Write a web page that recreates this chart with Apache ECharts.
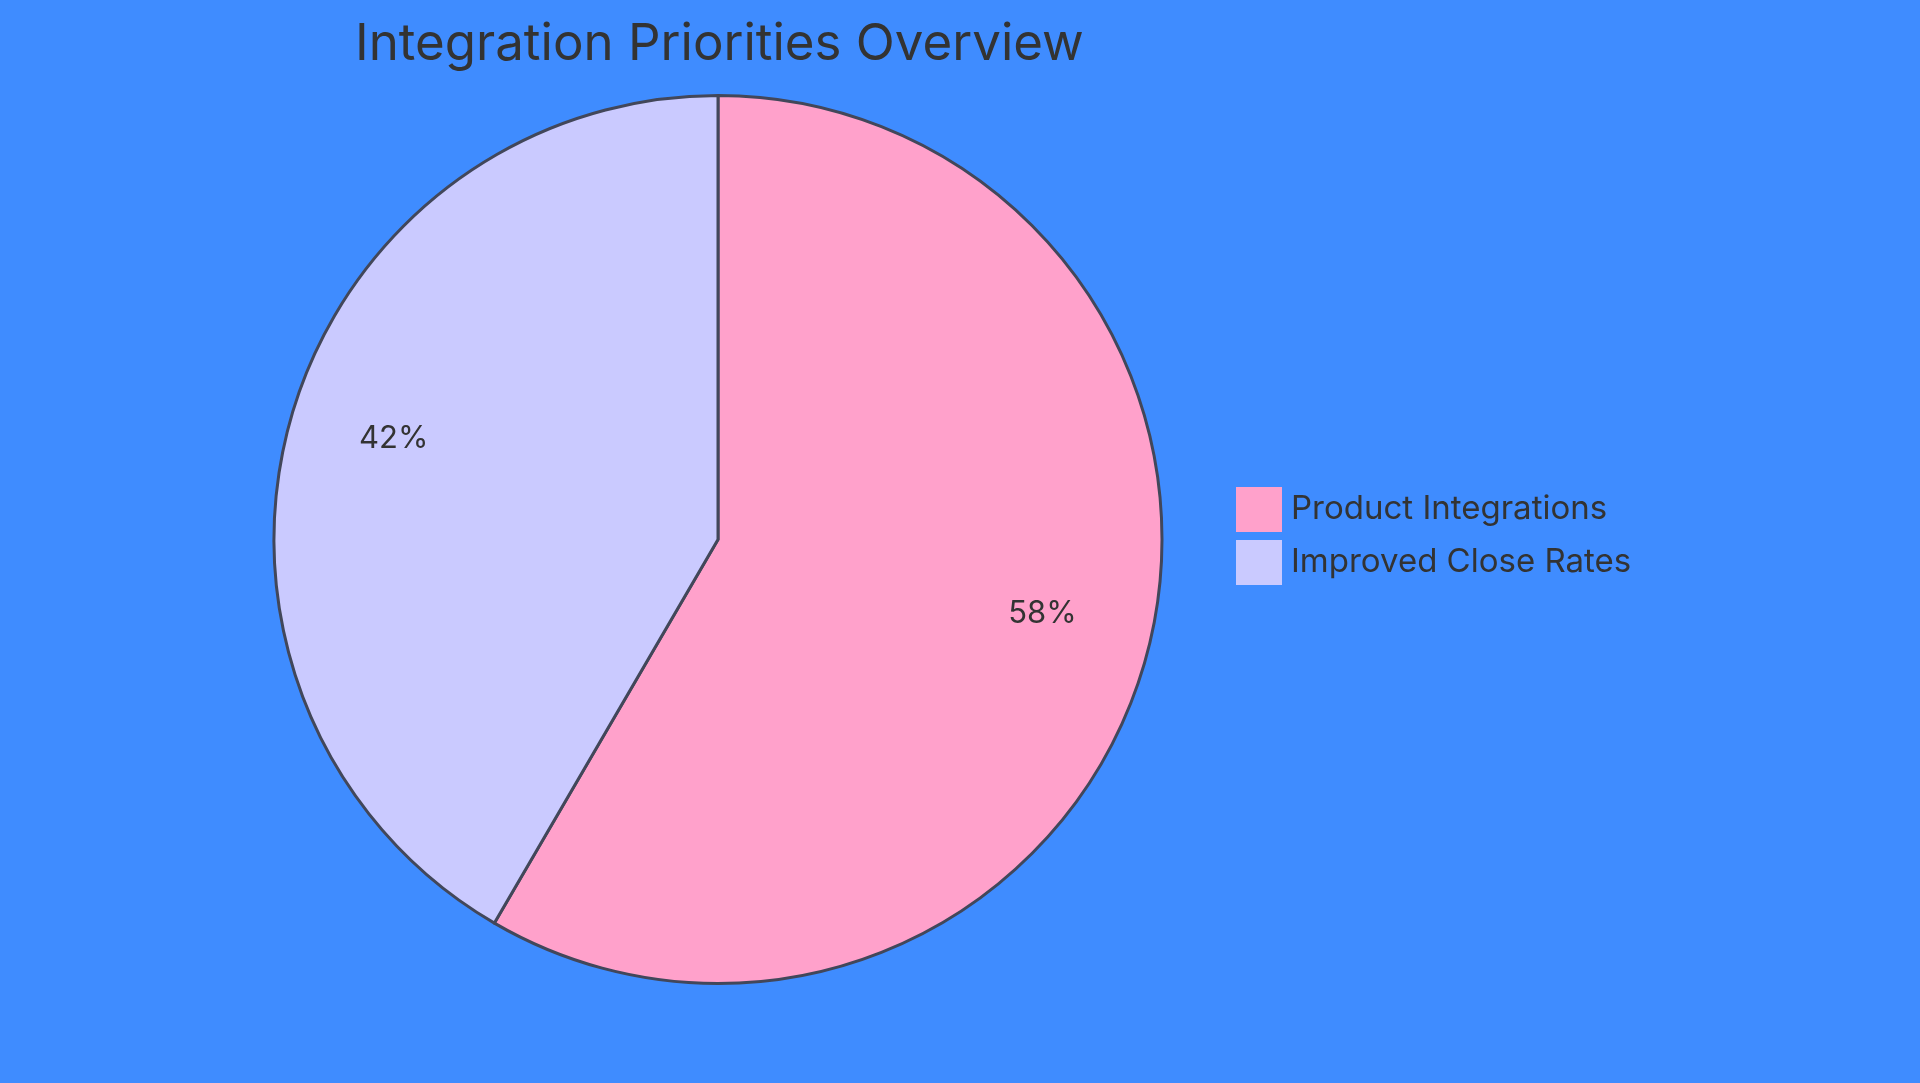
<!doctype html>
<html>
    <head>
        <meta charset="utf-8">
        <title>Integration Priorities Overview</title>
        <style>
            html, body { margin: 0; padding: 0; background: #3f8cff; }
            #main { width: 1920px; height: 1083px; }
        </style>
    </head>
    <body>
        <div id="main"></div>
        <script src="https://cdn.jsdelivr.net/npm/echarts@6/dist/echarts.min.js"></script>
        <script>
            var chart = echarts.init(document.getElementById('main'));

            var categories = ['Product Integrations', 'Improved Close Rates'];
            var values = [58.4, 41.6];
            var colors = ['#ffa1cb', '#cacaff'];

            var fontFamily = 'Inter, "Noto Sans", sans-serif';

            var pieData = categories.map(function (name, i) {
                return { name: name, value: values[i], itemStyle: { color: colors[i] } };
            });

            // labels sit at 3/4 of the radius, so a transparent ring carries them
            var labelData = categories.map(function (name, i) {
                return { name: name, value: values[i] };
            });

            chart.setOption({
                backgroundColor: '#3f8cff',
                animation: false,
                title: {
                    text: 'Integration Priorities Overview',
                    left: 350,
                    top: 14,
                    textStyle: {
                        fontFamily: fontFamily,
                        fontSize: 51,
                        fontWeight: 'normal',
                        color: '#333333'
                    }
                },
                legend: {
                    orient: 'vertical',
                    left: 1236,
                    top: 486,
                    padding: 0,
                    itemWidth: 46,
                    itemHeight: 45,
                    itemGap: 6,
                    icon: 'rect',
                    data: categories,
                    itemStyle: { borderWidth: 0 },
                    textStyle: {
                        fontFamily: fontFamily,
                        fontSize: 33,
                        lineHeight: 45,
                        color: '#333333',
                        padding: [2, 0, 0, 4]
                    }
                },
                series: [{
                    type: 'pie',
                    center: [718, 539.5],
                    radius: [0, 444],
                    startAngle: 90,
                    clockwise: true,
                    silent: true,
                    data: pieData,
                    label: { show: false },
                    labelLine: { show: false },
                    itemStyle: {
                        borderColor: '#42475a',
                        borderWidth: 3
                    }
                }, {
                    type: 'pie',
                    center: [718, 539.5],
                    radius: [222, 444],
                    startAngle: 90,
                    clockwise: true,
                    silent: true,
                    data: labelData,
                    itemStyle: { color: 'rgba(0,0,0,0)' },
                    label: {
                        show: true,
                        position: 'inside',
                        formatter: function (p) {
                            return Math.round(p.percent) + '%';
                        },
                        offset: [0, -13],
                        fontFamily: fontFamily,
                        fontSize: 31,
                        color: '#333333'
                    },
                    labelLine: { show: false }
                }]
            });

            window.addEventListener('resize', function () {
                chart.resize();
            });
        </script>
    </body>
</html>
